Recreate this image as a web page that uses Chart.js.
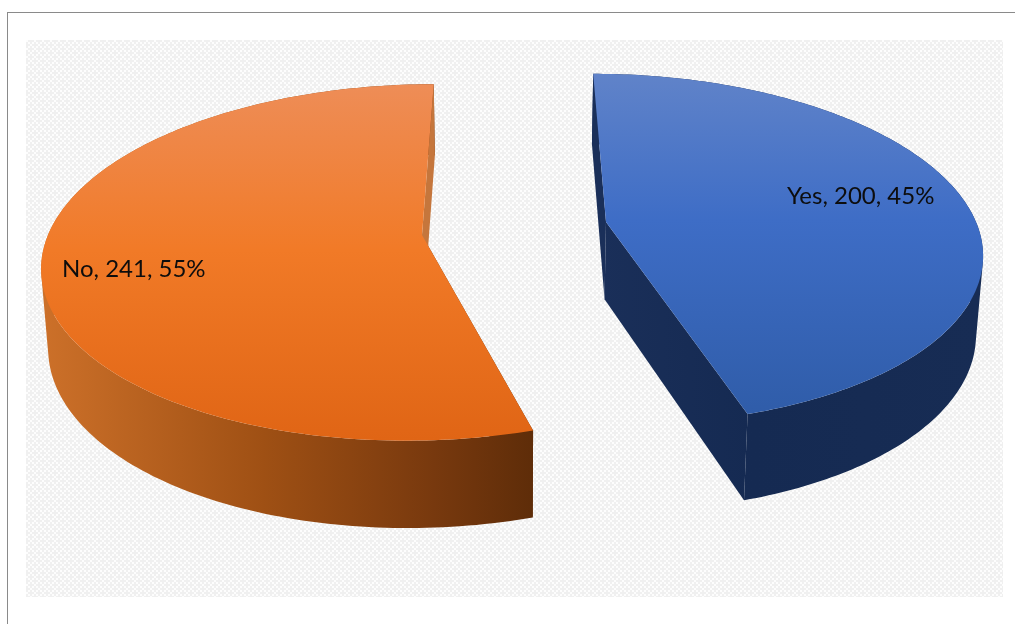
<!DOCTYPE html>
<html>
<head>
<meta charset="utf-8">
<title>Yes / No pie</title>
<script src="https://cdn.jsdelivr.net/npm/chart.js@4/dist/chart.umd.min.js"></script>
<style>
  html, body { margin: 0; padding: 0; background: #fff; overflow: hidden; }
  #wrap { position: relative; width: 1015px; height: 624px; }
  #frame { position: absolute; left: 7px; top: 12px; right: -4px; bottom: -4px; border: 1px solid #8a8a8a; border-width: 1.5px; }
  canvas { position: absolute; left: 0; top: 0; }
</style>
</head>
<body>
<div id="wrap">
  <div id="frame"></div>
  <canvas id="pie" width="1015" height="624"></canvas>
</div>
<script>
const categories = ['Yes', 'No'];
const answers = [200, 241];
const percents = [45, 55];

// where each slice sits on the tilted table and how big the disc looks
const vanishX = 510;
const radiiX = [370, 374];
const radiiY = [171, 174];
const tilt = 0.154;
const apexes = [[606, 222], [422, 235]];

// side walls get a bit deeper towards the viewer and lean in slightly
const wallDepthBack = 71;
const wallDepthFront = 87;
const wallLean = 0.985;

const topStops = [
  [[74, '#6083c9'], [220, '#3e6dc6'], [420, '#2f5ca8']],
  [[84, '#ee8d57'], [250, '#f17a27'], [440, '#e06515']]
];
const labelSpots = [[787, 204], [62, 277]];

// disc coordinates (unit circle, y towards the viewer) to the page
function project(sliceIndex, x, y) {
  const [ax, ay] = apexes[sliceIndex];
  const w = 1 - tilt * y;
  return [vanishX + (ax - vanishX + radiiX[sliceIndex] * x) / w, ay + radiiY[sliceIndex] * y / w];
}

function dropToBottom(p) {
  const depth = wallDepthBack + (p[1] - 84) * (wallDepthFront - wallDepthBack) / 348;
  return [vanishX + (p[0] - vanishX) * wallLean, p[1] + depth];
}

function rimPoints(i, arc) {
  const pts = [];
  const steps = 180;
  for (let s = 0; s <= steps; s++) {
    const a = arc.startAngle + (arc.endAngle - arc.startAngle) * s / steps;
    pts.push(project(i, Math.cos(a), Math.sin(a)));
  }
  return pts;
}

function poly(ctx, pts) {
  ctx.beginPath();
  pts.forEach((p, n) => n ? ctx.lineTo(p[0], p[1]) : ctx.moveTo(p[0], p[1]));
  ctx.closePath();
}

// the swept band under the rim, every quad wound the same way so nothing cancels out
function outerWall(ctx, rim) {
  ctx.beginPath();
  for (let n = 0; n < rim.length - 1; n++) {
    let q = [rim[n], rim[n + 1], dropToBottom(rim[n + 1]), dropToBottom(rim[n])];
    let area = 0;
    q.forEach((p, k) => {
      const r = q[(k + 1) % 4];
      area += p[0] * r[1] - r[0] * p[1];
    });
    if (area < 0) q = q.reverse();
    q.forEach((p, k) => k ? ctx.lineTo(p[0], p[1]) : ctx.moveTo(p[0], p[1]));
    ctx.closePath();
  }
  ctx.fill();
}

function wallGradient(ctx, i) {
  if (i === 0) {
    const g = ctx.createLinearGradient(600, 0, 980, 0);
    g.addColorStop(0, '#1a2f59');
    g.addColorStop(0.4, '#152a52');
    g.addColorStop(1, '#172c54');
    return g;
  }
  const g = ctx.createLinearGradient(44, 0, 531, 0);
  g.addColorStop(0, '#cc7029');
  g.addColorStop(0.45, '#9f5014');
  g.addColorStop(0.8, '#78390e');
  g.addColorStop(1, '#5f2d09');
  return g;
}

const backdrop = {
  id: 'backdrop',
  beforeDraw(chart) {
    const ctx = chart.ctx;
    const tile = document.createElement('canvas');
    tile.width = tile.height = 8;
    const t = tile.getContext('2d');
    t.fillStyle = '#f0f0f0';
    t.fillRect(0, 0, 8, 8);
    t.fillStyle = '#fdfdfd';
    [[0, 0], [4, 4], [2, 2], [6, 6], [6, 2], [2, 6]].forEach(c => t.fillRect(c[0], c[1], 2, 2));
    ctx.save();
    ctx.fillStyle = ctx.createPattern(tile, 'repeat');
    ctx.translate(26, 40);
    ctx.fillRect(0, 0, 977, 557);
    ctx.restore();
  }
};

// draws the pie slices as extruded wedges from the angles the controller worked out
const extrudedPie = {
  id: 'extrudedPie',
  beforeDatasetDraw(chart, args) {
    const ctx = chart.ctx;
    const arcs = args.meta.data;
    arcs.forEach((arc, i) => {
      const rim = rimPoints(i, arc);
      const apex = project(i, 0, 0);
      const first = rim[0];
      const last = rim[rim.length - 1];
      const back = first[1] < last[1] ? first : last;
      const front = back === first ? last : first;
      ctx.save();

      // front cut face, the outer wall has to paint over it
      ctx.fillStyle = wallGradient(ctx, i);
      poly(ctx, [front, apex, dropToBottom(apex), dropToBottom(front)]);
      ctx.fill();

      outerWall(ctx, rim);

      // back cut face sits in front of the far wall
      ctx.fillStyle = i === 0 ? '#1a2f59' : '#c5763c';
      poly(ctx, [back, apex, dropToBottom(apex), dropToBottom(back)]);
      ctx.fill();

      // top face
      const stops = topStops[i];
      const y0 = stops[0][0];
      const y1 = stops[stops.length - 1][0];
      const g = ctx.createLinearGradient(0, y0, 0, y1);
      stops.forEach(s => g.addColorStop((s[0] - y0) / (y1 - y0), s[1]));
      ctx.fillStyle = g;
      poly(ctx, [apex].concat(rim));
      ctx.fill();
      ctx.restore();
    });
    return false;
  },
  afterDatasetsDraw(chart) {
    const ctx = chart.ctx;
    ctx.save();
    ctx.font = '24px Lato, "Open Sans", sans-serif';
    ctx.fillStyle = '#0d0d0d';
    ctx.textBaseline = 'alphabetic';
    categories.forEach((name, i) => {
      ctx.fillText(name + ', ' + answers[i] + ', ' + percents[i] + '%', labelSpots[i][0], labelSpots[i][1]);
    });
    ctx.restore();
  }
};

new Chart(document.getElementById('pie'), {
  type: 'pie',
  data: {
    labels: categories,
    datasets: [{ data: answers, borderWidth: 0 }]
  },
  options: {
    responsive: false,
    animation: false,
    events: [],
    rotation: 0,
    plugins: { legend: { display: false }, tooltip: { enabled: false } }
  },
  plugins: [backdrop, extrudedPie]
});
</script>
</body>
</html>
